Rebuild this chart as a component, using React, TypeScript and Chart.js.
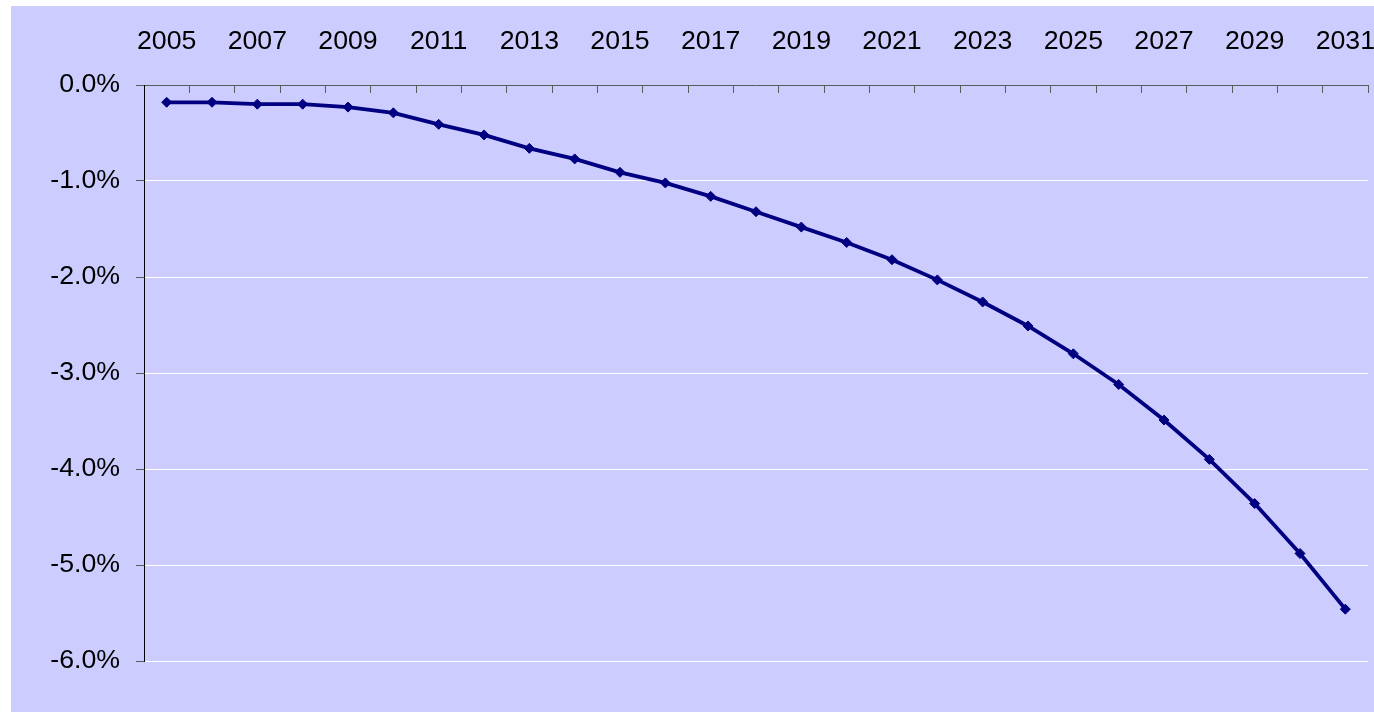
import React, { useEffect, useRef } from "react";
import { Chart, registerables } from "chart.js";

Chart.register(...registerables);

const years: string[] = [
  "2005", "2006", "2007", "2008", "2009", "2010", "2011", "2012", "2013",
  "2014", "2015", "2016", "2017", "2018", "2019", "2020", "2021", "2022",
  "2023", "2024", "2025", "2026", "2027", "2028", "2029", "2030", "2031",
];

const changePct: number[] = [
  -0.18, -0.18, -0.2, -0.2, -0.23, -0.29, -0.41, -0.52, -0.66,
  -0.77, -0.91, -1.02, -1.16, -1.32, -1.48, -1.64, -1.82, -2.03,
  -2.26, -2.51, -2.8, -3.12, -3.49, -3.9, -4.36, -4.88, -5.46,
];

const yMin = -6;
const yMax = 0;
const yStep = 1;

const FONT = "'Liberation Sans', Arial, Helvetica, sans-serif";

export default function App() {
  const ref = useRef<HTMLCanvasElement | null>(null);

  useEffect(() => {
    if (!ref.current) return;
    const chart = new Chart(ref.current, {
      type: "line",
      data: {
        labels: years,
        datasets: [
          {
            data: changePct,
            borderColor: "#000080",
            backgroundColor: "#000080",
            borderWidth: 3.8,
            pointStyle: "rectRot",
            pointRadius: 5,
            pointBorderWidth: 1,
            pointBackgroundColor: "#000080",
            pointBorderColor: "#000080",
            tension: 0,
            fill: false,
          },
        ],
      },
      options: {
        animation: false,
        responsive: false,
        devicePixelRatio: 1,
        layout: { padding: { left: 0, top: 0, right: 6, bottom: 51 } },
        plugins: {
          legend: { display: false },
          tooltip: { enabled: false },
          title: { display: false },
        },
        scales: {
          x: {
            position: "top",
            offset: true,
            grid: {
              display: true,
              offset: true,
              drawOnChartArea: false,
              drawTicks: true,
              tickLength: -8,
              color: "#5a5a5a",
              tickColor: "#5a5a5a",
              lineWidth: 1,
            },
            border: { display: true, color: "#5a5a5a", width: 1 },
            ticks: {
              autoSkip: false,
              maxRotation: 0,
              minRotation: 0,
              padding: 35,
              color: "#000",
              font: { family: FONT, size: 26.7 },
              callback: function (this: any, val: any, i: number) {
                return i % 2 === 0 ? years[i] : "";
              },
            },
            afterFit: (scale: any) => {
              scale.height = 79;
              scale.paddingLeft = 0;
              scale.paddingRight = 0;
            },
          },
          y: {
            min: yMin,
            max: yMax,
            grid: {
              color: (ctx: any) =>
                ctx.tick && ctx.tick.value === 0 ? "rgba(0,0,0,0)" : "#ffffff",
              tickColor: "#5a5a5a",
              drawTicks: true,
              tickLength: 8,
              lineWidth: 1,
            },
            border: { display: true, color: "#000000", width: 1 },
            ticks: {
              stepSize: yStep,
              padding: 16,
              color: "#000",
              font: { family: FONT, size: 26.7 },
              callback: (v: any) => Number(v).toFixed(1) + "%",
            },
            afterFit: (scale: any) => {
              scale.width = 133;
              scale.paddingTop = 0;
              scale.paddingBottom = 0;
            },
          },
        },
      },
    });
    return () => chart.destroy();
  }, []);

  return (
    <div
      style={{
        position: "fixed",
        left: 0,
        top: 0,
        width: 1374,
        height: 712,
        background: "#ffffff",
        overflow: "hidden",
      }}
    >
      <div
        style={{
          position: "absolute",
          left: 11,
          top: 6,
          width: 1363,
          height: 706,
          background: "#CCCCFF",
        }}
      >
        <canvas
          ref={ref}
          width={1363}
          height={706}
          style={{ display: "block", width: 1363, height: 706 }}
        />
      </div>
    </div>
  );
}
